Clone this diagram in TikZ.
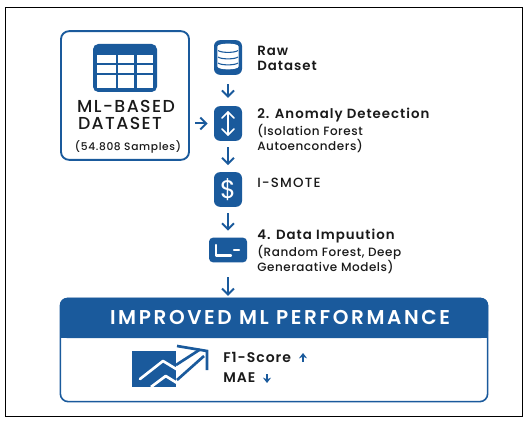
\documentclass[tikz,border=0pt]{standalone}
\usepackage{fontspec}
\setmainfont{Poppins}
\newfontfamily\medf{Poppins Medium}
\newfontfamily\semf{Poppins SemiBold}
\usetikzlibrary{arrows.meta,calc}
\definecolor{mlblue}{HTML}{1A5A9C}
\definecolor{mlink}{HTML}{1A1A1A}
\tikzset{
  x=0.75pt,y=-0.75pt,
  iconbox/.style={fill=mlblue,rounded corners=4.5pt,inner sep=0pt,minimum width=21pt,minimum height=26pt},
  flow/.style={draw=mlblue,line width=1.5pt,-{Straight Barb[length=4.5pt,width=9pt,line width=1.5pt]}},
  whiteln/.style={draw=white,line width=1.1pt,line cap=round,line join=round},
  lab/.style={anchor=west,inner sep=0pt,text=mlink},
  head/.style={lab,font=\fontsize{10pt}{12pt}\semf\addfontfeature{LetterSpace=7.5}},
  sub/.style={lab,font=\fontsize{9pt}{10pt}\medf\addfontfeature{LetterSpace=4.5}},
  metric/.style={lab,font=\fontsize{10.5pt}{11pt}\semf\addfontfeature{LetterSpace=7}},
  bigl/.style={lab,anchor=center,font=\fontsize{13pt}{14pt}\medf\addfontfeature{LetterSpace=8}},
  metricarrow/.style={draw=mlblue,line width=1.2pt,-{Stealth[length=4pt,width=6pt]}},
}
\begin{document}
\begin{tikzpicture}
\useasboundingbox (0,0) rectangle (527,423);
\fill[white] (0,0) rectangle (527,423);
\draw[black,line width=0.6pt] (5,7) rectangle (522,416);

\node[draw=mlblue,line width=1.4pt,rounded corners=6pt,minimum width=96pt,minimum height=96.5pt,inner sep=0pt] (ds) at (125,95.5) {};
\node[fill=mlblue,rounded corners=4pt,minimum width=48pt,minimum height=36pt,inner sep=0pt] (tbl) at (125,68) {};
\foreach \xa/\xb in {97/115.5,118/134,136.5/153}
  \foreach \ya/\yb in {55.5/63.5,65.5/73.5,75.5/88}
    \fill[white] (\xa,\ya) rectangle (\xb,\yb);
\node[bigl] (t1) at (126,106) {ML-BASED};
\node[bigl] (t2) at (120,123) {DATASET};
\node[lab,anchor=center,font=\fontsize{8pt}{10pt}\medf\addfontfeature{LetterSpace=6}] (t3) at (128,147) {(54.808 Samples)};

\node[iconbox] (raw) at (228,57.5) {};
\node[iconbox] (anom) at (228,123.5) {};
\node[iconbox] (smote) at (228,189.5) {};
\node[iconbox,minimum width=28.5pt,minimum height=18.5pt,rounded corners=3pt] (imp) at (228,250) {};

\draw[whiteln,fill=white] (218,47) .. controls (218,43.5) and (238,43.5) .. (238,47) -- (238,66) .. controls (238,69.5) and (218,69.5) .. (218,66) -- cycle;
\draw[draw=mlblue,line width=0.8pt] (218,50.5) .. controls (221,53) and (235,53) .. (238,50.5);
\draw[draw=mlblue,line width=0.8pt] (218,57) .. controls (221,59.5) and (235,59.5) .. (238,57);
\draw[draw=mlblue,line width=0.8pt] (218,63) .. controls (221,65.5) and (235,65.5) .. (238,63);
\draw[whiteln,line width=1.3pt] (228,112) -- (228,135);
\draw[whiteln,line width=1.3pt] (222,118) -- (228,112) -- (234,118);
\draw[whiteln,line width=1.3pt] (222,129) -- (228,135) -- (234,129);
\node[font=\fontsize{19pt}{20pt}\selectfont,text=white,inner sep=0pt] (dollar) at (228,189.5) {\$};
\draw[whiteln,line width=1.7pt] (216,245) -- (216,255.5) -- (231,255.5);
\draw[whiteln,line width=1.7pt] (234,250) -- (239,250);

\draw[flow,shorten <=7pt,shorten >=6pt] (raw) -- (anom);
\draw[flow,shorten <=4.5pt,shorten >=5pt] (anom) -- (smote);
\draw[flow,shorten <=4.5pt,shorten >=5pt] (smote.south) -- (imp.north);
\draw[flow,shorten <=11pt,shorten >=2pt] (imp.south) -- ($(imp.south)+(0,36)$) coordinate (impend);
\draw[flow,shorten <=4pt,shorten >=4.5pt] (ds.east |- anom.west) -- (anom.west);

\node[head] (l1a) at (257,51) {Raw};
\node[head] (l1b) at (257,66) {Dataset};
\node[head] (l2a) at (257,115) {2. Anomaly Deteection};
\node[sub] (l2b) at (257,131) {(Isolation Forest};
\node[sub] (l2c) at (257,146) {Autoenconders)};
\node[lab,font=\fontsize{10pt}{12pt}\medf\addfontfeature{LetterSpace=9}] (l3a) at (257,183) {I-SMOTE};
\node[head] (l4a) at (257,236) {4. Data Impuution};
\node[sub] (l4b) at (257,252) {(Random Forest, Deep};
\node[sub] (l4c) at (257,267) {Generaative Models)};

\node[draw=mlblue,line width=1.2pt,rounded corners=6pt,minimum width=320.5pt,minimum height=77.5pt,inner sep=0pt] (res) at (274,350) {};
\fill[mlblue,rounded corners=5pt] (60,338) -- (60,298) -- (488,298) -- (488,338) -- cycle;
\fill[mlblue] (60,325) rectangle (488,338);
\node[anchor=center,text=white,inner sep=0pt,font=\fontsize{15pt}{17pt}\semf\addfontfeature{LetterSpace=13}] (restitle) at (280,317) {IMPROVED ML PERFORMANCE};

\fill[mlblue] (131.5,350.5) rectangle (176,386.5);
\draw[draw=white,line width=2pt,line cap=round,line join=round] (140,379) -- (163,361) -- (177,369.5);
\draw[draw=white,line width=2pt,line join=round] (151,387) -- (165.7,376) -- (177,383);
\draw[draw=mlblue,line width=2pt] (177,346) -- (207,351) -- (207,370);
\draw[draw=mlblue,line width=2pt] (176,365) -- (200,349.5);
\draw[draw=mlblue,line width=2pt] (177,380) -- (204,356);

\node[metric] (f1) at (223,357) {F1-Score};
\node[metric] (mae) at (223,378) {MAE};
\coordinate (upb) at (303,362);
\coordinate (upt) at (303,353);
\coordinate (dnt) at (267,374);
\coordinate (dnb) at (267,383);
\draw[metricarrow] (upb) -- (upt);
\draw[metricarrow] (dnt) -- (dnb);
\end{tikzpicture}
\end{document}
